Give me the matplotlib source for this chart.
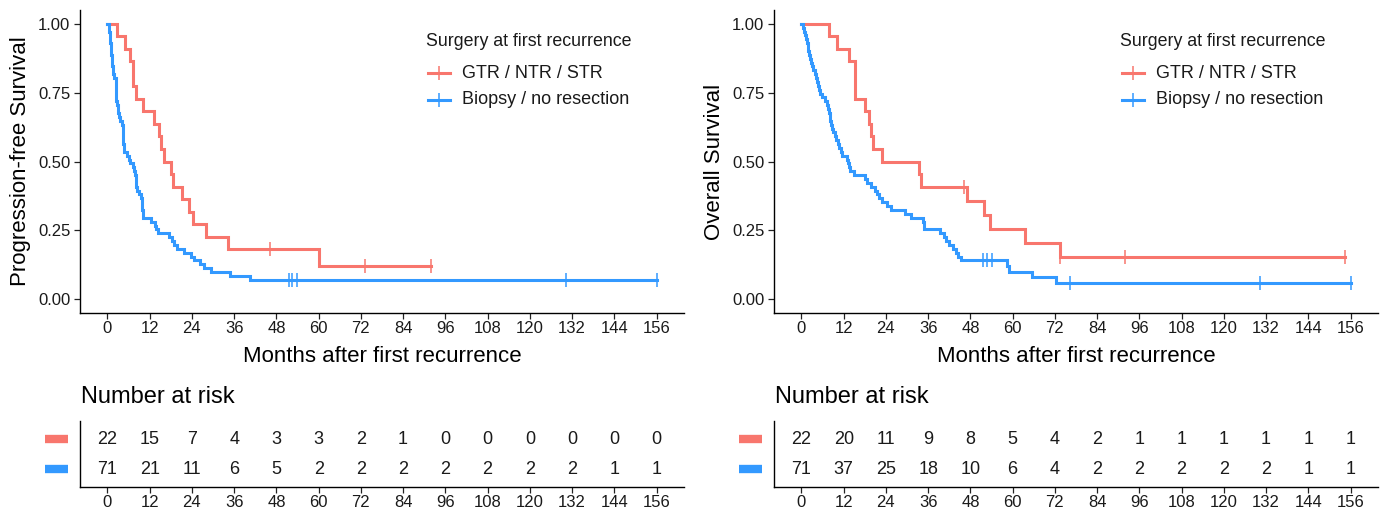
import numpy as np
import matplotlib
matplotlib.use("Agg")
import matplotlib.pyplot as plt
from matplotlib.lines import Line2D

plt.rcParams['font.family'] = ['Liberation Sans', 'DejaVu Sans']

# ---------------- data (months) ----------------
group_labels = ["GTR / NTR / STR", "Biopsy / no resection"]
legend_title = "Surgery at first recurrence"

# Progression-free survival
pfs_gtr_events = [2.75, 4.9, 6.3, 7.2, 7.2, 8.2, 10.0, 13.35, 14.6, 15.3, 16.0, 18.1,
                  18.6, 21.2, 23.1, 24.2, 28.0, 34.2, 60.2]
pfs_gtr_censored = [46.3, 73.3, 91.8]
pfs_bio_events = [0.4, 0.5, 0.6, 0.7, 0.8, 0.9, 1.0, 1.1, 1.2, 1.3, 1.4, 1.5, 1.6,
                  2.0,
                  2.3, 2.35, 2.4, 2.45, 2.5, 2.55, 2.6,
                  2.9, 3.1, 3.4, 3.7,
                  4.1,
                  4.4, 4.43, 4.46, 4.5, 4.53, 4.56, 4.6,
                  5.5,
                  6.1, 6.3,
                  7.3, 7.6, 7.95,
                  8.05, 8.15, 8.25, 8.4,
                  8.9, 9.4,
                  9.85, 9.9, 9.95, 10.0, 10.1,
                  12.4, 13.6, 13.9, 14.3,
                  17.5, 18.3, 19.0, 19.8,
                  21.7, 23.6, 24.5, 26.4, 27.4, 29.3, 34.9, 40.6]
pfs_bio_censored = [51.5, 52.5, 53.9, 130.4, 156.0]

# Overall survival
os_gtr_events = [7.95, 10.1, 13.6, 15.3, 15.3, 15.3, 18.0, 19.1, 19.9, 20.4, 22.9,
                 33.5, 34.1, 47.1, 52.0, 53.7, 63.6, 73.4]
os_gtr_censored = [46.3, 73.4, 91.8, 154.5]
os_bio_events = [0.5, 0.8, 1.0, 1.3, 1.6, 1.8, 2.0, 2.2, 2.4, 2.6, 3.0, 3.4, 3.8, 4.1,
                 4.5, 4.7, 4.9, 5.4, 5.9, 6.6, 7.3, 7.5, 7.7, 8.0, 8.2, 8.5, 8.7, 9.0,
                 9.4, 9.7, 10.4, 10.8, 11.2, 11.6, 13.0, 13.3, 13.6, 13.9, 14.8, 18.0,
                 18.7, 19.8, 21.0, 21.5, 22.0, 23.0, 24.3, 25.5, 29.5, 31.0, 34.5, 34.7,
                 34.9, 39.5, 40.5, 41.2, 41.8, 43.0, 43.8, 44.5, 45.2, 58.4, 59.0, 65.5,
                 72.2]
os_bio_censored = [51.6, 52.8, 54.0, 76.4, 130.4, 156.0]

# Number at risk tables
risk_times = [0, 12, 24, 36, 48, 60, 72, 84, 96, 108, 120, 132, 144, 156]
pfs_risk_gtr = [22, 15, 7, 4, 3, 3, 2, 1, 0, 0, 0, 0, 0, 0]
pfs_risk_bio = [71, 21, 11, 6, 5, 2, 2, 2, 2, 2, 2, 2, 1, 1]
os_risk_gtr = [22, 20, 11, 9, 8, 5, 4, 2, 1, 1, 1, 1, 1, 1]
os_risk_bio = [71, 37, 25, 18, 10, 6, 4, 2, 2, 2, 2, 2, 1, 1]

y_ticks = [0.0, 0.25, 0.50, 0.75, 1.00]

colors = ["#F8766D", "#3399FF"]


def kaplan_meier(events, censored):
    t = np.concatenate([np.asarray(events, float), np.asarray(censored, float)])
    d = np.concatenate([np.ones(len(events)), np.zeros(len(censored))])
    uniq = np.unique(t)
    xs, ys = [0.0], [1.0]
    cx, cy = [], []
    s = 1.0
    for u in uniq:
        at_risk = np.sum(t >= u)
        ev = np.sum((t == u) & (d == 1))
        cen = np.sum((t == u) & (d == 0))
        if ev > 0:
            s = s * (1 - ev / at_risk)
        xs.append(u)
        ys.append(s)
        if cen > 0:
            cx.append(u)
            cy.append(s)
    return np.array(xs), np.array(ys), cx, cy


W, H = 1381, 515
fig = plt.figure(figsize=(W / 100, H / 100), dpi=100)


def fx(px):
    return px / W


def fy(py):
    return 1 - py / H


panels = [
    dict(left=80, ylabel="Progression-free Survival",
         curves=[(pfs_gtr_events, pfs_gtr_censored), (pfs_bio_events, pfs_bio_censored)],
         risk=[pfs_risk_gtr, pfs_risk_bio]),
    dict(left=774, ylabel="Overall Survival",
         curves=[(os_gtr_events, os_gtr_censored), (os_bio_events, os_bio_censored)],
         risk=[os_risk_gtr, os_risk_bio]),
]

pw = 604
ph_top, ph_bot = 10, 313
xlim = (-7.8, 163.8)
tick_col = "#222222"
txt_col = "#1a1a1a"

for p in panels:
    L = p["left"]
    ax = fig.add_axes([fx(L), fy(ph_bot), fx(pw), (ph_bot - ph_top) / H])

    def ax_xy(px, py):
        return ((px - L) / pw, (ph_bot - py) / (ph_bot - ph_top))

    for (ev, ce), col in zip(p["curves"], colors):
        xs, ys, cx, cy = kaplan_meier(ev, ce)
        ax.step(xs, ys, where="post", color=col, lw=2.2, solid_joinstyle="miter")
        ax.plot(cx, cy, ls="none", marker="|", ms=10, mew=1.1, color=col)
    ax.set_xlim(*xlim)
    ax.set_ylim(-0.05, 1.05)
    ax.set_xticks(risk_times)
    ax.set_yticks(y_ticks)
    ax.set_yticklabels([f"{v:.2f}" for v in y_ticks])
    for s in ["top", "right"]:
        ax.spines[s].set_visible(False)
    for s in ["left", "bottom"]:
        ax.spines[s].set_linewidth(1.0)
        ax.spines[s].set_color("black")
    ax.tick_params(axis="both", labelsize=12, length=4, width=0.9, color=tick_col,
                   labelcolor=txt_col, pad=1.5)
    ax.tick_params(axis="y", pad=3)
    ax.text(-0.099, 0.5, p["ylabel"], rotation=90, ha="center", va="center",
            fontsize=16, transform=ax.transAxes)
    ax.text(0.5, -0.142, "Months after first recurrence", ha="center", va="center",
            fontsize=16, transform=ax.transAxes)

    # legend (drawn inside the panel, like ggplot's legend.position)
    tx0, ty0 = ax_xy(L + 346, 42)
    ax.text(tx0, ty0, legend_title, ha="left", va="center", fontsize=12.8,
            color=txt_col, transform=ax.transAxes)
    for i, (lab, col) in enumerate(zip(group_labels, colors)):
        py = 73 + 27 * i
        k0, ky = ax_xy(L + 348, py)
        k1, _ = ax_xy(L + 370, py)
        km_, _ = ax_xy(L + 359, py)
        ax.add_line(Line2D([k0, k1], [ky, ky], color=col, lw=2.2,
                           transform=ax.transAxes))
        ax.add_line(Line2D([km_], [ky], color=col, ls="none", marker="|", ms=10,
                           mew=1.1, transform=ax.transAxes))
        lx, _ = ax_xy(L + 382, py)
        ax.text(lx, ky, lab, ha="left", va="center", fontsize=13, color=txt_col,
                transform=ax.transAxes)

    # risk table
    tx = fig.add_axes([fx(L), fy(487), fx(pw), 66 / H])
    tx.set_xlim(*xlim)
    tx.set_ylim(0.4, 2.6)
    for row, (vals, col) in enumerate(zip(p["risk"], colors)):
        yv = 2 - row
        for t, v in zip(risk_times, vals):
            tx.text(t, yv, str(v), ha="center", va="center", fontsize=13, color=txt_col)
        tx.plot([-0.058, -0.02], [yv, yv], color=col, lw=6, solid_capstyle="butt",
                transform=tx.get_yaxis_transform(), clip_on=False)
    tx.set_yticks([])
    tx.set_xticks(risk_times)
    for s in ["top", "right"]:
        tx.spines[s].set_visible(False)
    for s in ["left", "bottom"]:
        tx.spines[s].set_linewidth(1.0)
        tx.spines[s].set_color("black")
    tx.tick_params(axis="x", labelsize=12, length=4, width=0.9, color=tick_col,
                   labelcolor=txt_col, pad=1.5)
    fig.text(fx(L + 1), fy(397), "Number at risk", ha="left", va="center", fontsize=17)

fig.savefig("out.png", dpi=100)
